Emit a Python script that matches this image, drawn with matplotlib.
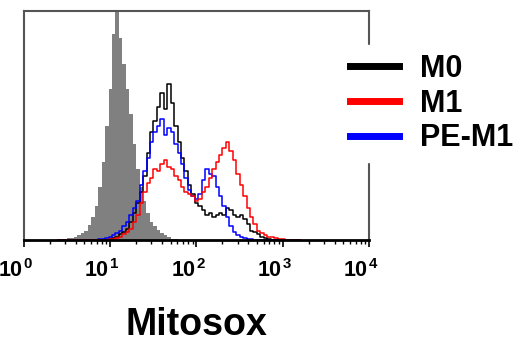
import numpy as np
import matplotlib
matplotlib.use("Agg")
import matplotlib.pyplot as plt
from matplotlib.lines import Line2D
from matplotlib.transforms import ScaledTranslation

plt.rcParams["font.family"] = ["Liberation Sans", "DejaVu Sans"]
plt.rcParams["mathtext.fontset"] = "custom"
plt.rcParams["mathtext.rm"] = "Liberation Sans:bold"
plt.rcParams["mathtext.bf"] = "Liberation Sans:bold"

# channel positions (log10 of fluorescence), one value per histogram bin
log_channel = np.round(np.arange(0.40, 3.201, 0.04), 2)

# % of max events per channel
control = [0, 0.3, 0.5, 0.8, 1.0, 1.3, 2.0, 3.0, 4.0, 6.5,
           10, 15, 23, 34, 50, 66, 90, 100, 88, 77,
           66, 55, 42, 31, 23, 17, 12, 8, 6, 4.5,
           3, 2, 1.3, 0.6, 0.3, 0, 0, 0, 0, 0,
           0, 0, 0, 0, 0, 0, 0, 0, 0, 0,
           0, 0, 0, 0, 0, 0, 0, 0, 0, 0,
           0, 0, 0, 0, 0, 0, 0, 0, 0, 0, 0]
m0 = [0, 0, 0, 0, 0, 0, 0, 0, 0, 0,
      0, 0, 0, 0, 0, 0.5, 1, 1.5, 2.5, 3.5,
      5, 8, 12, 16, 21, 28, 38, 47, 52, 58,
      64, 57, 68, 60, 50, 43, 36, 30, 24, 20,
      16, 15, 13, 11, 12, 10, 11, 12, 11, 14,
      13, 11, 10, 11, 9, 7, 4, 3.5, 2.5, 1.5,
      1, 0.5, 0.2, 0, 0, 0, 0, 0, 0, 0, 0]
pe_m1 = [0, 0, 0, 0, 0, 0, 0, 0, 0, 0,
         0, 0, 0.3, 0.5, 1, 1.5, 2, 3, 4, 6,
         8, 11, 14, 17, 24, 30, 36, 43, 47, 50,
         53, 46, 49, 47, 42, 38, 33, 27, 22, 19,
         18, 20, 26, 31, 29, 28, 23, 19, 15, 10,
         6, 3.5, 2, 1.2, 0.8, 0.5, 0.3, 0.2, 0, 0,
         0, 0, 0, 0, 0, 0, 0, 0, 0, 0, 0]
m1 = [0, 0, 0, 0, 0, 0, 0, 0, 0, 0,
      0, 0, 0, 0, 0, 0.3, 0.5, 1, 1.5, 2.5,
      3.5, 5, 8, 11, 16, 21, 25, 27, 31, 30,
      33, 35, 32, 31, 28, 26, 23, 21, 20, 19,
      17, 18, 21, 23, 27, 31, 34, 37, 40, 43,
      39, 35, 29, 24, 19, 14, 10, 7, 4, 3,
      2, 1.5, 1.2, 1, 0.6, 0.4, 0.2, 0, 0, 0, 0]

labels = ["M0", "M1", "PE-M1"]
colors = ["#000000", "#ff0000", "#0000ff"]
decades = [0, 1, 2, 3, 4]

fig = plt.figure(figsize=(5.2, 3.44), dpi=100)
ax = fig.add_axes([24 / 520, 104 / 344, 345 / 520, 229 / 344])

x = 10 ** log_channel
# step outline of the control histogram, bin edges halfway between channels
half = 0.02
step_x = 10 ** np.column_stack([log_channel - half, log_channel + half]).ravel()
step_y = np.repeat(control, 2)
ax.fill_between(step_x, step_y, 0, facecolor="#808080", edgecolor="none",
                antialiased=False)
ax.plot(x, m0, drawstyle="steps-mid", color=colors[0], lw=1.1)
ax.plot(x, pe_m1, drawstyle="steps-mid", color=colors[2], lw=1.1)
ax.plot(x, m1, drawstyle="steps-mid", color=colors[1], lw=1.1)

ax.set_xscale("log")
ax.set_xlim(1, 1e4)
ax.set_ylim(0, 100)
ax.set_yticks([])
ax.set_xticks([10.0 ** d for d in decades])
ax.set_xticklabels([r"$10^{\hspace{0.1}%d}$" % d for d in decades], fontsize=15.5)
ax.tick_params(axis="x", which="major", direction="out", length=5, width=1.2, pad=9)
ax.tick_params(axis="x", which="minor", direction="out", length=3, width=1)
# labels sit a little left of their ticks in the original
shift = ScaledTranslation(-8 / 100, 0, fig.dpi_scale_trans)
for lab in ax.get_xticklabels():
    lab.set_transform(lab.get_transform() + shift)

for side in ["left", "top", "right"]:
    ax.spines[side].set_color("#555555")
    ax.spines[side].set_linewidth(1.5)
ax.spines["bottom"].set_color("black")
ax.spines["bottom"].set_linewidth(2)

ax.set_xlabel("Mitosox", fontsize=27, fontweight="bold", labelpad=18)

handles = [Line2D([], [], color=c, lw=5) for c in colors]
leg = ax.legend(handles, labels, loc="upper left",
                bbox_to_anchor=(341 / 520, 1 - 45 / 344),
                bbox_transform=fig.transFigure,
                prop={"size": 22, "weight": "bold"},
                frameon=True, fancybox=False, edgecolor="white",
                facecolor="white", framealpha=1, borderpad=0.3,
                borderaxespad=0, handlelength=1.6, handletextpad=0.7,
                labelspacing=0.15)

fig.savefig("out.png", dpi=100)
